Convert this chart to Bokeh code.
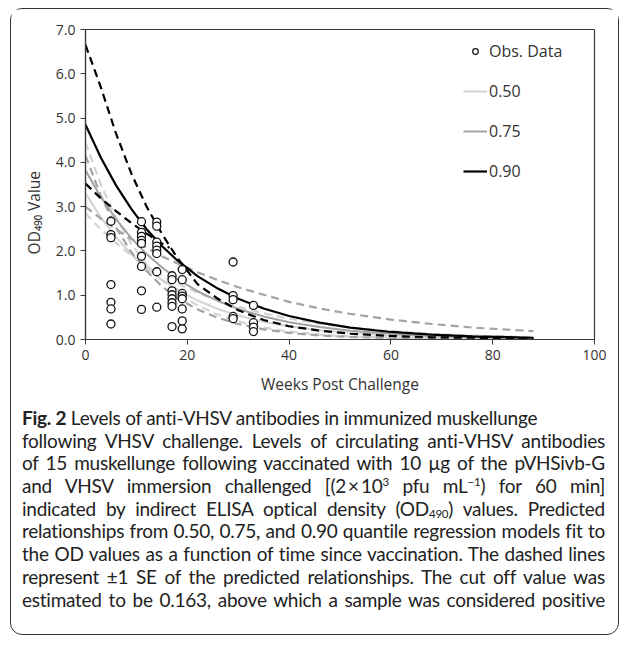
from bokeh.plotting import figure
from bokeh.models import (ColumnDataSource, Legend, LegendItem, Div, Range1d,
                          FixedTicker, PrintfTickFormatter)
from bokeh.layouts import column
from bokeh.embed import file_html
from bokeh.resources import INLINE

# ---------------- data ----------------
# observed OD490 values, by sampling week
obs_weeks = ([5] * 7 + [11] * 9 + [14] * 8 + [17] * 8 + [19] * 8 + [29] * 5 + [33] * 4)
obs_od = [2.67, 2.37, 2.30, 1.24, 0.84, 0.69, 0.35,
          2.66, 2.42, 2.33, 2.24, 2.17, 1.88, 1.65, 1.10, 0.68,
          2.65, 2.56, 2.20, 2.11, 2.02, 1.94, 1.53, 0.73,
          1.44, 1.35, 1.10, 1.01, 0.92, 0.83, 0.75, 0.29,
          1.58, 1.35, 1.04, 0.98, 0.92, 0.69, 0.42, 0.24,
          1.75, 0.99, 0.90, 0.52, 0.47,
          0.77, 0.38, 0.28, 0.18]

# predicted curves (read at these weeks)
curve_weeks = [0, 3, 6, 9, 12, 15, 18, 22, 26, 30, 35, 40, 46, 52, 60, 68, 76, 88]
q50_fit = [3.30, 2.76, 2.31, 1.93, 1.61, 1.35, 1.13, 0.88, 0.69, 0.54, 0.40, 0.30, 0.21, 0.15, 0.09, 0.06, 0.03, 0.02]
q50_se_a = [4.45, 3.50, 2.75, 2.16, 1.70, 1.34, 1.05, 0.77, 0.56, 0.41, 0.27, 0.18, 0.11, 0.07, 0.04, 0.02, 0.01, 0.01]
q50_se_b = [2.85, 2.49, 2.18, 1.90, 1.66, 1.45, 1.27, 1.06, 0.88, 0.74, 0.59, 0.47, 0.36, 0.27, 0.19, 0.13, 0.09, 0.05]
q75_fit = [3.82, 3.22, 2.72, 2.29, 1.93, 1.63, 1.37, 1.09, 0.87, 0.69, 0.52, 0.39, 0.28, 0.20, 0.13, 0.08, 0.05, 0.03]
q75_se_a = [4.15, 3.25, 2.53, 1.97, 1.55, 1.20, 0.94, 0.68, 0.49, 0.35, 0.23, 0.15, 0.09, 0.06, 0.03, 0.02, 0.01, 0.01]
q75_se_b = [3.00, 2.73, 2.49, 2.27, 2.07, 1.88, 1.72, 1.52, 1.34, 1.18, 1.01, 0.85, 0.70, 0.58, 0.45, 0.35, 0.27, 0.19]
q90_fit = [4.85, 4.11, 3.48, 2.95, 2.49, 2.11, 1.79, 1.43, 1.15, 0.92, 0.70, 0.53, 0.38, 0.27, 0.17, 0.11, 0.07, 0.04]
q90_se_a = [6.65, 5.70, 4.65, 3.75, 3.00, 2.39, 1.85, 1.25, 0.92, 0.66, 0.44, 0.30, 0.20, 0.13, 0.08, 0.05, 0.04, 0.03]
q90_se_b_weeks = [0, 3, 6, 9, 12, 15, 16.5]
q90_se_b = [3.52, 3.19, 2.90, 2.63, 2.39, 2.17, 2.07]

x_ticks = [0, 20, 40, 60, 80, 100]
y_ticks = [0, 1, 2, 3, 4, 5, 6, 7]

FONT = "Open Sans"
C50, C75, C90 = "#d3d3d3", "#a3a3a3", "#000000"

W, H = 607, 388
p = figure(width=W, height=H, x_range=Range1d(0, 100), y_range=Range1d(0, 7),
           output_backend="svg", toolbar_location=None,
           min_border_left=74, min_border_right=24, min_border_top=20, min_border_bottom=57)
p.xgrid.visible = False
p.ygrid.visible = False
p.outline_line_color = "#3a3a3a"
p.outline_line_width = 1.2
p.background_fill_color = "white"
p.border_fill_color = "white"

for ax in (p.xaxis[0], p.yaxis[0]):
    ax.axis_line_color = "#3a3a3a"
    ax.axis_line_width = 1.2
    ax.major_tick_line_color = "#3a3a3a"
    ax.major_tick_in = 0
    ax.major_tick_out = 5
    ax.minor_tick_line_color = None
    ax.major_label_text_font = FONT
    ax.major_label_text_font_size = "14px"
    ax.major_label_text_color = "#333333"
    ax.axis_label_text_font = FONT
    ax.axis_label_text_font_size = "15.5px"
    ax.axis_label_text_font_style = "normal"
    ax.axis_label_text_color = "#333333"

p.xaxis.ticker = FixedTicker(ticks=x_ticks)
p.yaxis.ticker = FixedTicker(ticks=y_ticks)
p.yaxis.formatter = PrintfTickFormatter(format="%.1f")
p.xaxis.axis_label = "Weeks Post Challenge"
p.xaxis.axis_label_standoff = 10
# the y title sits a little below the frame centre in the original: pad its top end
p.yaxis.axis_label = "OD\u2084\u2089\u2080 Value" + "\u00a0" * 14
p.yaxis.axis_label_standoff = 8

src = ColumnDataSource(dict(t=curve_weeks, q50=q50_fit, q50a=q50_se_a, q50b=q50_se_b,
                            q75=q75_fit, q75a=q75_se_a, q75b=q75_se_b,
                            q90=q90_fit, q90a=q90_se_a))
src90b = ColumnDataSource(dict(t=q90_se_b_weeks, y=q90_se_b))

DASH = "8 5"
p.line("t", "q50a", source=src, line_color=C50, line_width=2.2, line_dash=DASH)
p.line("t", "q50b", source=src, line_color=C50, line_width=2.2, line_dash=DASH)
r50 = p.line("t", "q50", source=src, line_color=C50, line_width=2)
p.line("t", "q75a", source=src, line_color=C75, line_width=2.2, line_dash=DASH)
p.line("t", "q75b", source=src, line_color=C75, line_width=2.2, line_dash=DASH)
r75 = p.line("t", "q75", source=src, line_color=C75, line_width=2)
p.line("t", "q90a", source=src, line_color=C90, line_width=2.2, line_dash=DASH)
p.line("t", "y", source=src90b, line_color=C90, line_width=2.2, line_dash=DASH)
r90 = p.line("t", "q90", source=src, line_color=C90, line_width=2.2)

obs_src = ColumnDataSource(dict(x=obs_weeks, y=obs_od))
p.scatter("x", "y", source=obs_src, marker="circle", size=8, line_color="#111111",
          line_width=1.3, fill_color="white")
# legend-only marker (smaller circle, no visible data)
leg_src = ColumnDataSource(dict(x=[float("nan")], y=[float("nan")]))
leg_obs = p.scatter("x", "y", source=leg_src, marker="circle", size=5, line_color="#111111",
                    line_width=1.2, fill_color="white")

legend = Legend(items=[LegendItem(label="Obs. Data", renderers=[leg_obs]),
                       LegendItem(label="0.50", renderers=[r50]),
                       LegendItem(label="0.75", renderers=[r75]),
                       LegendItem(label="0.90", renderers=[r90])],
                location=(378, 157), padding=0, margin=0, spacing=18,
                glyph_width=24, glyph_height=14, label_height=20, label_standoff=2,
                border_line_alpha=0, background_fill_alpha=0,
                label_text_font=FONT, label_text_font_size="16px",
                label_text_color="#333333")
p.add_layout(legend)

caption_lines = [
    "<b>Fig. 2</b> Levels of anti-VHSV antibodies in immunized muskellunge",
    "following VHSV challenge. Levels of circulating anti-VHSV antibodies",
    "of 15 muskellunge following vaccinated with 10 \u00b5g of the pVHSivb-G",
    "and VHSV immersion challenged [(2\u2009\u00d7\u200910<sup>3</sup> pfu mL<sup>\u22121</sup>) for 60 min]",
    "indicated by indirect ELISA optical density (OD<sub>490</sub>) values. Predicted",
    "relationships from 0.50, 0.75, and 0.90 quantile regression models fit to",
    "the OD values as a function of time since vaccination. The dashed lines",
    "represent \u00b11 SE of the predicted relationships. The cut off value was",
    "estimated to be 0.163, above which a sample was considered positive",
]
sub_css = "font-size:11.5px;line-height:0;position:relative;"
html_lines = []
for i, ln in enumerate(caption_lines):
    ln = ln.replace("<sup>", f'<span style="{sub_css}vertical-align:0;top:-7px;">').replace("</sup>", "</span>")
    ln = ln.replace("<sub>", f'<span style="{sub_css}vertical-align:0;top:2px;">').replace("</sub>", "</span>")
    last = "left" if i == 0 else "justify"
    html_lines.append(
        f'<div style="width:583px;text-align:justify;text-align-last:{last};white-space:nowrap;'
        f'line-height:22.7px;height:22.7px;overflow:visible;">{ln}</div>')
caption = Div(text="".join(html_lines), width=583, height=222,
              styles={"font-family": "Lato", "font-size": "19px", "color": "#222222",
                      "letter-spacing": "-0.25px",
                      "margin-left": "11px", "margin-top": "10px"})

layout = column(p, caption, styles={"border": "1.5px solid #333333", "border-radius": "12px",
                                    "background": "white", "padding": "0px",
                                    "margin-left": "10px", "margin-top": "8px"})

open("out.html", "w").write(file_html(layout, INLINE))
